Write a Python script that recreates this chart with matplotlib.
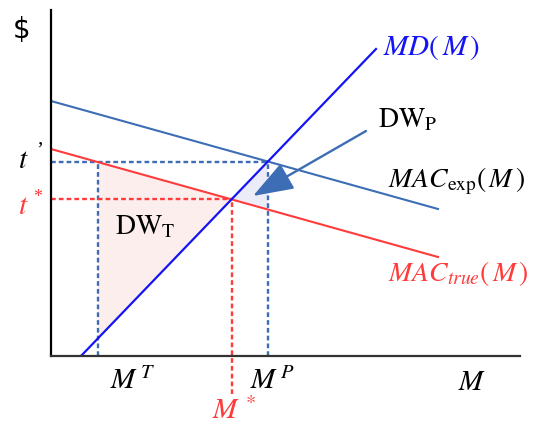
import numpy as np
import matplotlib.pyplot as plt

# lines given by two end points (quantity M, price $)
mac_exp_x = [0, 387]
mac_exp_y = [255, 147]
mac_true_x = [0, 387]
mac_true_y = [207, 99]
md_x = [30, 325]
md_y = [0, 307]
m_T = 47

def line_at(xs, ys, x):
    return ys[0] + (ys[1] - ys[0]) * (x - xs[0]) / (xs[1] - xs[0])

def crossing(xa, ya, xb, yb):
    sa = (ya[1] - ya[0]) / (xa[1] - xa[0])
    sb = (yb[1] - yb[0]) / (xb[1] - xb[0])
    x = (yb[0] - sb * xb[0] - ya[0] + sa * xa[0]) / (sa - sb)
    return x, ya[0] + sa * (x - xa[0])

m_star, t_star = crossing(md_x, md_y, mac_true_x, mac_true_y)
m_P, t_p = crossing(md_x, md_y, mac_exp_x, mac_exp_y)

steel = '#3d6db5'
blue = '#1414f5'
red = '#ff3b3b'

plt.rcParams['mathtext.fontset'] = 'stix'

fig = plt.figure(figsize=(5.42, 4.25), dpi=100)
ax = fig.add_axes([51/542, 69/425, 469/542, 346/425])
ax.set_xlim(0, 469)
ax.set_ylim(0, 346)
for s in ['top', 'right']:
    ax.spines[s].set_visible(False)
ax.spines['left'].set_linewidth(1.6)
ax.spines['bottom'].set_linewidth(1.6)
ax.spines['bottom'].set_color('#333333')
ax.set_xticks([])
ax.set_yticks([])

# dead weight areas
ax.fill([m_T, m_T, m_star], [line_at(mac_true_x, mac_true_y, m_T), line_at(md_x, md_y, m_T), t_star],
        color='#fdeeee', lw=0)
ax.fill([m_star, m_P, m_P], [t_star, t_p, line_at(mac_true_x, mac_true_y, m_P)],
        color='#ececf9', lw=0)

dash = (0, (2.0, 1.3))
ax.plot([0, m_P], [t_p, t_p], color=steel, lw=1.7, ls=dash)
ax.plot([m_P, m_P], [0, t_p], color=steel, lw=1.7, ls=dash)
ax.plot([m_T, m_T], [0, t_p], color=steel, lw=1.7, ls=dash)
ax.plot([0, m_star], [t_star, t_star], color=red, lw=1.7, ls=dash)
ax.plot([m_star, m_star], [-38, t_star], color=red, lw=1.7, ls=dash, clip_on=False)

ax.plot(mac_exp_x, mac_exp_y, color=steel, lw=1.5)
ax.plot(mac_true_x, mac_true_y, color=red, lw=1.5)
ax.plot(md_x, md_y, color=blue, lw=1.6)

ax.annotate('', xy=(202, 160), xytext=(315, 225),
            arrowprops=dict(arrowstyle='-|>,head_length=1.4,head_width=0.5',
                            color=steel, lw=1.7, mutation_scale=18, shrinkA=0, shrinkB=0))

fs = 21
ax.text(-29, 326, '$', fontsize=20, ha='center', va='center', clip_on=False)
ax.text(-28, 196, '$t$', fontsize=fs, ha='center', va='center')
ax.text(-11, 205, '’', fontsize=15, ha='center', va='center', family='Liberation Serif')
ax.text(-28, 150, '$t$', fontsize=fs, ha='center', va='center', color=red)
ax.text(-13, 159, '*', fontsize=13, ha='center', va='center', color=red, family='Liberation Serif')

ax.text(82, -25, '$M^{\\,T}$', fontsize=fs, ha='center', va='center')
ax.text(221, -25, '$M^{\\,P}$', fontsize=fs, ha='center', va='center')
ax.text(183, -55, '$M^{\\,*}$', fontsize=fs, ha='center', va='center', color=red)
ax.text(421, -26, '$M$', fontsize=fs, ha='center', va='center')

ax.text(332, 309, '$MD(\\,M\\,)$', fontsize=fs, ha='left', va='center', color=blue)
ax.text(337, 175, '$MAC_{\\mathrm{exp}}(\\,M\\,)$', fontsize=20, ha='left', va='center')
ax.text(337, 82, '$MAC_{true}(\\,M\\,)$', fontsize=20, ha='left', va='center', color=red)
ax.text(327, 237, '$\\mathrm{DW}_\\mathrm{P}$', fontsize=20, ha='left', va='center')
ax.text(64, 130, '$\\mathrm{DW}_\\mathrm{T}$', fontsize=20, ha='left', va='center')

fig.savefig('out.png', dpi=100)
